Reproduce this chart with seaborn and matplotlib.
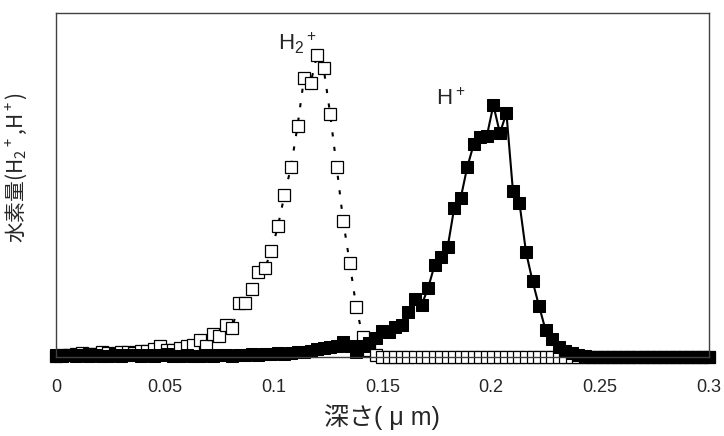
import numpy as np
import pandas as pd
import matplotlib
matplotlib.use("Agg")
import matplotlib.pyplot as plt
import seaborn as sns

# depth grid (um), one sample every 0.003 um
depth = np.round(np.arange(101) * 0.003, 3)

# H2+ profile (arbitrary units)
h2_plus = [1, 2, 2, 3, 4, 3, 3, 5, 4, 3,
           5, 5, 4, 6, 6, 8, 11, 7, 7, 9,
           11, 12, 17, 11, 23, 21, 32, 29, 54, 54,
           68, 85, 89, 106, 131, 162, 190, 231, 279, 274,
           302, 289, 243, 190, 136, 94, 50, 20, 7, 2] + [0] * 51

# H+ profile (arbitrary units)
h_plus = [2, 1, 2, 1, 2, 1, 2, 1, 1, 2,
          1, 2, 2, 1, 2, 1, 2, 3, 1, 1,
          2, 1, 1, 2, 1, 2, 2, 1, 2, 2,
          3, 2, 3, 3, 4, 3, 4, 5, 5, 6,
          8, 9, 10, 11, 15, 11, 5, 11, 14, 19,
          26, 25, 30, 32, 45, 58, 52, 69, 92, 100,
          110, 149, 159, 190, 213, 220, 221, 252, 224, 244,
          166, 154, 105, 76, 51, 27, 18, 10, 6, 4,
          2, 1] + [0] * 19

xticks = [0, 0.05, 0.1, 0.15, 0.2, 0.25, 0.3]
xticklabels = ["0", "0.05", "0.1", "0.15", "0.2", "0.25", "0.3"]

df = pd.DataFrame({"depth": depth, "h2": h2_plus, "h": h_plus})

sns.set_theme(style="white")
plt.rcParams["font.family"] = ["Liberation Sans", "Noto Sans CJK JP", "DejaVu Sans"]
plt.rcParams["mathtext.fontset"] = "custom"
plt.rcParams["mathtext.rm"] = "Liberation Sans"
plt.rcParams["mathtext.default"] = "regular"

fig = plt.figure(figsize=(7.24, 4.36), dpi=100)
ax = fig.add_axes([0.0773, 0.181, 0.9017, 0.789])

# H2+ : open squares, dotted line
sns.lineplot(data=df, x="depth", y="h2", ax=ax, color="black", lw=1.5,
             linestyle=(0, (2, 5)), marker="s", markersize=8.2,
             markerfacecolor="white", markeredgecolor="black",
             markeredgewidth=0.9, clip_on=False)
# H+ : filled squares, solid line
sns.lineplot(data=df, x="depth", y="h", ax=ax, color="black", lw=1.5,
             marker="s", markersize=8.2, markerfacecolor="black",
             markeredgecolor="black", clip_on=False)

ax.set_xlim(0, 0.3)
ax.set_ylim(0, 344)
ax.set_xticks(xticks)
ax.set_xticklabels(xticklabels)
ax.set_yticks([])
ax.tick_params(axis="x", length=0, pad=16, labelsize=13)

for sp in ax.spines.values():
    sp.set_color("#404040")
    sp.set_linewidth(1.0)

ax.text(0.102, 307, r"H$_2{}^+$", fontsize=16, ha="left", va="baseline")
ax.text(0.1746, 252, r"H$^+$", fontsize=16, ha="left", va="baseline")

ax.set_xlabel("深さ( μ m)", fontsize=18, labelpad=6)
ax.set_ylabel(r"水素量(H$_2{}^+$,H$^+$)", fontsize=15,
              family="Noto Sans CJK JP")
ax.yaxis.set_label_coords(-0.041, 0.552)

fig.savefig("out.png", dpi=100)
